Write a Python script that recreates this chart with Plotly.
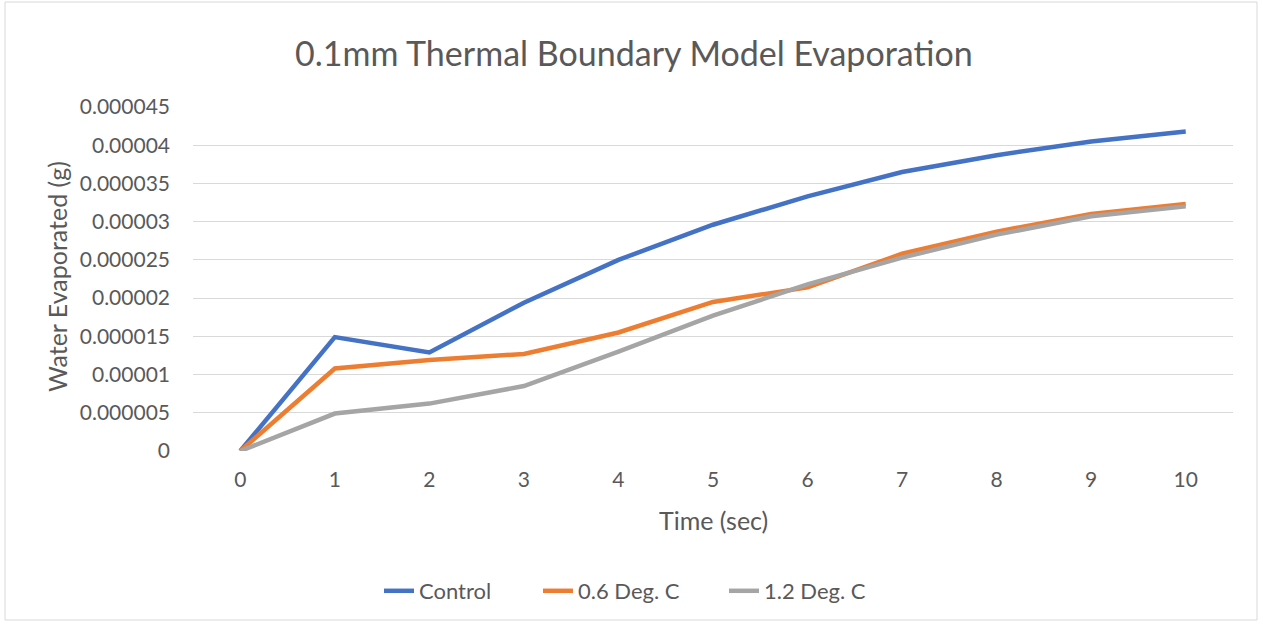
import plotly.graph_objects as go

time_sec = [0, 1, 2, 3, 4, 5, 6, 7, 8, 9, 10]
control = [0, 14.9e-6, 12.9e-6, 19.4e-6, 25.0e-6, 29.6e-6, 33.3e-6, 36.5e-6, 38.7e-6, 40.5e-6, 41.8e-6]
deg_06 = [0, 10.8e-6, 11.9e-6, 12.7e-6, 15.5e-6, 19.5e-6, 21.4e-6, 25.8e-6, 28.7e-6, 31.0e-6, 32.3e-6]
deg_12 = [0, 4.9e-6, 6.2e-6, 8.5e-6, 13.0e-6, 17.7e-6, 21.8e-6, 25.3e-6, 28.3e-6, 30.7e-6, 32.0e-6]

y_tick_vals = [0, 0.000005, 0.00001, 0.000015, 0.00002, 0.000025, 0.00003, 0.000035, 0.00004, 0.000045]
y_tick_text = ["0", "0.000005", "0.00001", "0.000015", "0.00002", "0.000025", "0.00003", "0.000035", "0.00004", "0.000045"]

FONT = "Lato"
GREY = "#595959"

series = [("Control", control, "#4472C4", "legend", 387),
          ("0.6 Deg. C", deg_06, "#ED7D31", "legend2", 546),
          ("1.2 Deg. C", deg_12, "#A5A5A5", "legend3", 732)]

fig = go.Figure()
for name, vals, col, leg, _ in series:
    fig.add_trace(go.Scatter(x=time_sec, y=vals, name=name, mode="lines", legend=leg,
                             line=dict(color=col, width=4.5)))

legend_common = dict(orientation="h", yanchor="middle", y=(451 - 591) / 344, xanchor="left",
                     font=dict(size=22, color=GREY, family=FONT), bgcolor="rgba(0,0,0,0)",
                     borderwidth=0)
legends = {}
for name, vals, col, leg, px in series:
    legends[leg] = dict(legend_common, x=(px - 193 - 8) / 1040)

fig.update_layout(
    width=1263, height=626,
    margin=dict(l=193, r=30, t=107, b=175),
    paper_bgcolor="white", plot_bgcolor="white",
    font=dict(family=FONT, color=GREY, size=21),
    showlegend=True,
    xaxis=dict(range=[-0.5, 10.5], tickvals=time_sec, ticktext=[str(t) for t in time_sec],
               showgrid=False, zeroline=False, showline=False, ticks="",
               tickfont=dict(size=21, color=GREY, family=FONT), ticklabelstandoff=14),
    yaxis=dict(range=[0, 0.000045], tickvals=y_tick_vals, ticktext=y_tick_text,
               showgrid=True, gridcolor="#D9D9D9", gridwidth=1, zeroline=False,
               showline=False, ticks="", tickfont=dict(size=21, color=GREY, family=FONT),
               ticklabelstandoff=22),
    annotations=[
        dict(text="0.1mm Thermal Boundary Model Evaporation", xref="paper", yref="paper",
             x=(634 - 193) / 1040, y=(451 - 53) / 344, xanchor="center", yanchor="middle",
             showarrow=False, font=dict(size=34, color=GREY, family=FONT)),
        dict(text="Time (sec)", xref="paper", yref="paper",
             x=(713 - 193) / 1040, y=(451 - 520) / 344, xanchor="center", yanchor="middle",
             showarrow=False, font=dict(size=25, color=GREY, family=FONT)),
        dict(text="Water Evaporated (g)", xref="paper", yref="paper", textangle=-90,
             x=(57 - 193) / 1040, y=(451 - 277) / 344, xanchor="center", yanchor="middle",
             showarrow=False, font=dict(size=25, color=GREY, family=FONT)),
    ],
    shapes=[dict(type="rect", xref="paper", yref="paper",
                 x0=(5 - 193) / 1040, x1=(1257 - 193) / 1040,
                 y0=(451 - 620) / 344, y1=(451 - 2) / 344,
                 line=dict(color="#D9D9D9", width=1), fillcolor="rgba(0,0,0,0)", layer="below")],
    **legends,
)

fig.write_html("out.html")
